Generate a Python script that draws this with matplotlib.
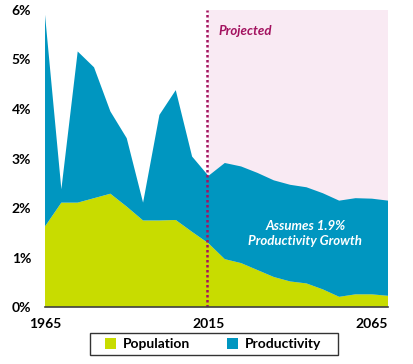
import numpy as np
import matplotlib.pyplot as plt
from matplotlib.patches import Rectangle

plt.rcParams['font.family'] = ['Lato', 'DejaVu Sans']

# 5-year steps, 1965..2070
years = list(range(1965, 2071, 5))
population = [1.63, 2.11, 2.11, 2.20, 2.29, 2.03, 1.75, 1.75, 1.76, 1.52, 1.29,
              0.97, 0.89, 0.75, 0.61, 0.52, 0.48, 0.36, 0.21, 0.26, 0.26, 0.23]
total = [5.90, 2.38, 5.16, 4.84, 3.95, 3.41, 2.11, 3.88, 4.38, 3.04, 2.65,
         2.91, 2.84, 2.71, 2.56, 2.47, 2.42, 2.30, 2.15, 2.20, 2.19, 2.15]
productivity = [t - p for t, p in zip(total, population)]
y_ticks = [0, 1, 2, 3, 4, 5, 6]
x_ticks = [1965, 2015, 2065]
proj_start = 2015

c_pop = '#C8DC00'
c_prod = '#0096C0'
c_proj = '#A3125F'

fig = plt.figure(figsize=(4.13, 3.64), dpi=100)
ax = fig.add_axes([0.109, 0.156, 0.831, 0.817])

# projected shading
ax.add_patch(Rectangle((proj_start, 0), years[-1] - proj_start, 6,
                       facecolor='#F9EAF3', edgecolor='none', zorder=0))

ax.stackplot(years, population, productivity, colors=[c_pop, c_prod],
             labels=['Population', 'Productivity'], zorder=2)

ax.axvline(proj_start - 0.5, color=c_proj, linestyle=(0, (1, 1)), lw=1.8, zorder=3)
ax.text(proj_start + 3, 5.58, 'Projected', color=c_proj, fontsize=9.5,
        fontweight='bold', style='italic', va='center', ha='left')
ax.text(2044.6, 1.48, 'Assumes 1.9%\nProductivity Growth', color='white',
        fontsize=9.5, fontweight='bold', style='italic', ha='center',
        va='center', linespacing=1.3, zorder=4)

ax.set_xlim(years[0], years[-1])
ax.set_ylim(0, 6)
ax.set_yticks(y_ticks)
ax.set_yticklabels([f'{v}%' for v in y_ticks], fontsize=10, fontweight='bold')
ax.set_xticks(x_ticks)
ax.set_xticklabels([str(v) for v in x_ticks], fontsize=10, fontweight='bold')
ax.tick_params(length=0, pad=8)
ax.tick_params(axis='y', pad=10)
for s in ['top', 'right', 'left']:
    ax.spines[s].set_visible(False)
ax.spines['bottom'].set_color('#404040')
ax.spines['bottom'].set_linewidth(1.2)
ax.spines['bottom'].set_zorder(5)

# legend box drawn separately for the wide padding
fig.add_artist(Rectangle((0.218, 0.0247), 0.600, 0.060, transform=fig.transFigure,
                         facecolor='white', edgecolor='#333333', lw=1.0))
fig.legend(loc='center', bbox_to_anchor=(0.516, 0.055), ncol=2,
           frameon=False, handlelength=0.8, handleheight=0.8,
           handletextpad=0.45, columnspacing=2.7, borderpad=0.2,
           prop={'weight': 'bold', 'size': 10})

fig.savefig('out.png', dpi=100)
